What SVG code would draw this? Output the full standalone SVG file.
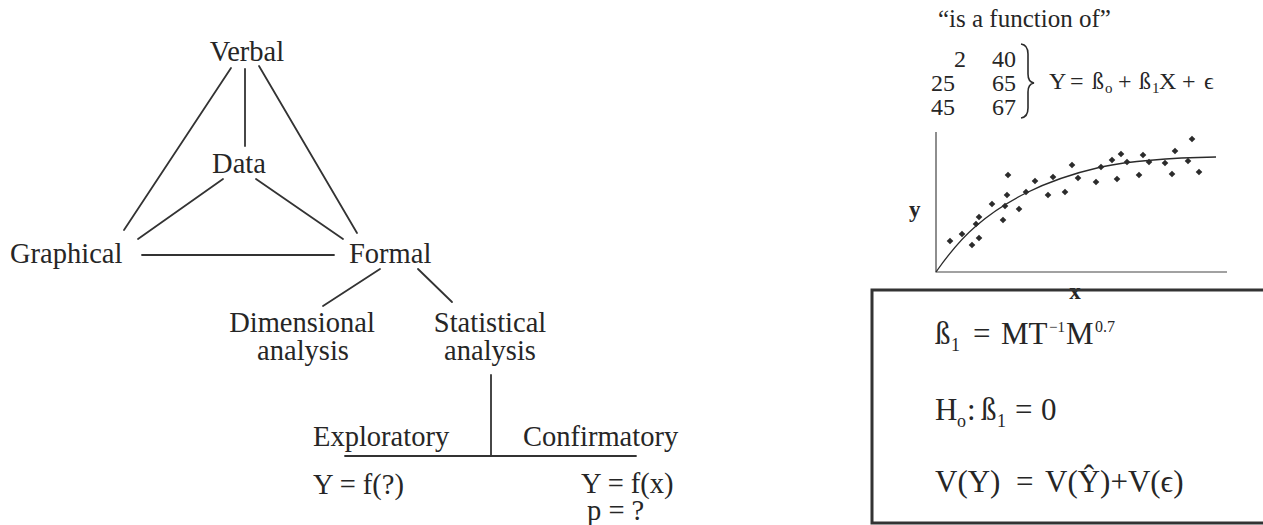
<svg xmlns="http://www.w3.org/2000/svg" width="1263" height="525" viewBox="0 0 1263 525">
  <defs>
    <style>
      .lbl { font-family: "Liberation Serif", "DejaVu Serif", serif; font-size: 28.5px; fill: #262626; }
      .mid { text-anchor: middle; }
      .eq { font-family: "Liberation Serif", "DejaVu Serif", serif; fill: #262626; }
      .link { stroke: #333; stroke-width: 1.8; fill: none; stroke-linecap: round; }
      .axis { stroke: #444; stroke-width: 1.2; fill: none; }
      .curve { stroke: #2b2b2b; stroke-width: 1.3; fill: none; stroke-linejoin: round; }
      .dot { fill: #2b2b2b; }
    </style>
    <path id="diamond" d="M0,-3.3 L3.3,0 L0,3.3 L-3.3,0 Z"/>
  </defs>
  <rect width="1263" height="525" fill="#ffffff"/>

  <!-- connectors -->
  <g id="connectors">
    <line class="link" x1="231" y1="68" x2="124" y2="230"/>
    <line class="link" x1="245" y1="69" x2="245" y2="146"/>
    <line class="link" x1="259" y1="66" x2="357" y2="233"/>
    <line class="link" x1="223" y1="179" x2="138" y2="239"/>
    <line class="link" x1="256" y1="179" x2="343" y2="239"/>
    <line class="link" x1="142" y1="255" x2="334" y2="255"/>
    <line class="link" x1="380" y1="269" x2="323" y2="306"/>
    <line class="link" x1="418" y1="269" x2="452" y2="302"/>
    <line class="link" x1="491" y1="375" x2="491" y2="456"/>
    <line class="link" x1="345" y1="456" x2="636" y2="456"/>
  </g>

  <!-- nodes -->
  <g id="node-verbal"><text class="lbl mid" x="247" y="61">Verbal</text></g>
  <g id="node-data"><text class="lbl mid" x="239" y="173">Data</text></g>
  <g id="node-graphical"><text class="lbl" x="10" y="263">Graphical</text></g>
  <g id="node-formal"><text class="lbl" x="349" y="263">Formal</text></g>
  <g id="node-dimensional">
    <text class="lbl mid" x="302" y="332">Dimensional</text>
    <text class="lbl mid" x="303" y="360">analysis</text>
  </g>
  <g id="node-statistical">
    <text class="lbl mid" x="490" y="332">Statistical</text>
    <text class="lbl mid" x="490" y="360">analysis</text>
  </g>
  <g id="node-exploratory">
    <text class="lbl" x="313" y="446">Exploratory</text>
    <text class="lbl" x="313" y="494">Y = f(?)</text>
  </g>
  <g id="node-confirmatory">
    <text class="lbl" x="523" y="446">Confirmatory</text>
    <text class="lbl" x="581" y="493">Y = f(x)</text>
    <text class="lbl" x="587" y="520">p = ?</text>
  </g>

  <!-- model panel: data, regression equation and fitted curve -->
  <g id="panel-model">
    <text class="eq" x="938" y="27" font-size="25">“is a function of”</text>
    <g class="eq" font-size="24">
      <text x="966" y="67" text-anchor="end">2</text>
      <text x="931" y="91">25</text>
      <text x="931" y="115">45</text>
      <text x="1016" y="67" text-anchor="end">40</text>
      <text x="1016" y="91" text-anchor="end">65</text>
      <text x="1016" y="115" text-anchor="end">67</text>
    </g>
    <path d="M1021,44 Q1028,45 1028,54 L1028,74 Q1028,82 1034,83 Q1028,84 1028,92 L1028,108 Q1028,117 1021,118" stroke="#2b2b2b" stroke-width="1.6" fill="none"/>
    <text class="eq" font-size="24" y="89">
      <tspan x="1049">Y</tspan><tspan x="1070">=</tspan><tspan x="1092">ß</tspan><tspan x="1105" y="93" font-size="15">o</tspan><tspan x="1118" y="89">+</tspan><tspan x="1139">ß</tspan><tspan x="1152" y="93" font-size="15">1</tspan><tspan x="1159" y="89">X</tspan><tspan x="1182">+</tspan><tspan x="1204">ϵ</tspan>
    </text>

    <!-- scatter plot -->
    <g id="plot">
      <polyline class="axis" points="936,132 936,272 1227,272"/>
      <path class="curve" d="M936,272 C950,252 962,238 976,226 C992,212 1008,202 1026,193 C1048,182 1075,173 1101,167 C1130,161 1160,158 1216,157"/>
      <g class="dot">
        <use href="#diamond" x="950" y="241"/>
        <use href="#diamond" x="962" y="234"/>
        <use href="#diamond" x="972" y="245"/>
        <use href="#diamond" x="979" y="238"/>
        <use href="#diamond" x="976" y="224"/>
        <use href="#diamond" x="979" y="217"/>
        <use href="#diamond" x="992" y="204"/>
        <use href="#diamond" x="1003" y="220"/>
        <use href="#diamond" x="1005" y="206"/>
        <use href="#diamond" x="1007" y="195"/>
        <use href="#diamond" x="1008" y="175"/>
        <use href="#diamond" x="1019" y="209"/>
        <use href="#diamond" x="1026" y="192"/>
        <use href="#diamond" x="1035" y="181"/>
        <use href="#diamond" x="1048" y="195"/>
        <use href="#diamond" x="1053" y="177"/>
        <use href="#diamond" x="1065" y="192"/>
        <use href="#diamond" x="1072" y="165"/>
        <use href="#diamond" x="1078" y="178"/>
        <use href="#diamond" x="1096" y="182"/>
        <use href="#diamond" x="1101" y="167"/>
        <use href="#diamond" x="1112" y="160"/>
        <use href="#diamond" x="1117" y="179"/>
        <use href="#diamond" x="1121" y="154"/>
        <use href="#diamond" x="1127" y="162"/>
        <use href="#diamond" x="1139" y="175"/>
        <use href="#diamond" x="1143" y="155"/>
        <use href="#diamond" x="1149" y="162"/>
        <use href="#diamond" x="1165" y="163"/>
        <use href="#diamond" x="1172" y="174"/>
        <use href="#diamond" x="1175" y="151"/>
        <use href="#diamond" x="1188" y="161"/>
        <use href="#diamond" x="1192" y="139"/>
        <use href="#diamond" x="1199" y="172"/>
      </g>
      <text class="eq" x="909" y="217" font-size="23" font-weight="bold">y</text>
      <text class="eq" x="1075" y="299" font-size="23" font-weight="bold" text-anchor="middle">x</text>
    </g>
  </g>

  <!-- hypothesis panel -->
  <g id="panel-tests">
    <rect x="872" y="290" width="400" height="233" fill="none" stroke="#333" stroke-width="3"/>
    <text class="eq" font-size="31" y="344">
      <tspan x="935">ß</tspan><tspan x="951" y="351" font-size="18">1</tspan><tspan x="973" y="344">=</tspan><tspan x="1001">MT</tspan><tspan x="1049" y="332" font-size="15">−1</tspan><tspan x="1066" y="344">M</tspan><tspan x="1095" y="332" font-size="16">0.7</tspan>
    </text>
    <text class="eq" font-size="31" y="420">
      <tspan x="935">H</tspan><tspan x="957" y="427" font-size="18">o</tspan><tspan x="967" y="420">:</tspan><tspan x="981">ß</tspan><tspan x="997" y="427" font-size="18">1</tspan><tspan x="1015" y="420">=</tspan><tspan x="1041">0</tspan>
    </text>
    <text class="eq" font-size="31" y="492">
      <tspan x="935">V(Y)</tspan><tspan x="1016">=</tspan><tspan x="1045">V(Ŷ)+V(ϵ)</tspan>
    </text>
  </g>
</svg>
